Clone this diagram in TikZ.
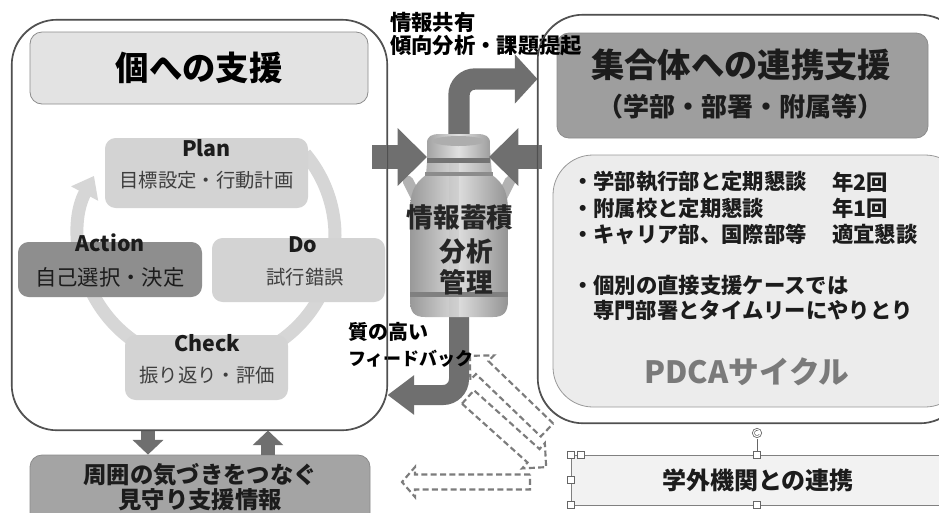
\documentclass[tikz,border=0pt]{standalone}
\usepackage{fontspec}
\setmainfont{Noto Sans CJK JP}
\usetikzlibrary{arrows.meta,positioning}

\definecolor{panelline}{HTML}{505050}
\definecolor{boxline}{HTML}{8C8C8C}
\definecolor{paletitle}{HTML}{E3E3E3}
\definecolor{stepgray}{HTML}{D3D3D3}
\definecolor{actgray}{HTML}{8E8E8E}
\definecolor{ringgray}{HTML}{D6D6D6}
\definecolor{arrowgray}{HTML}{6F6F6F}
\definecolor{grouptop}{HTML}{9E9E9E}
\definecolor{watchgray}{HTML}{A4A4A4}
\definecolor{meetgray}{HTML}{ECECEC}
\definecolor{dashgray}{HTML}{7C7C7C}
\definecolor{inkgray}{HTML}{1C1C1C}
\definecolor{cyclegray}{HTML}{7A7A7A}

\begin{document}
\begin{tikzpicture}[
    x=0.75pt, y=0.75pt,
    panel/.style={draw=panelline, line width=0.8pt, rounded corners=34pt, inner sep=0pt},
    headbox/.style={draw=boxline, line width=0.6pt, rounded corners=9pt, inner sep=0pt},
    stepbox/.style={fill=stepgray, rounded corners=8pt, inner sep=0pt},
    steptitle/.style={font=\bfseries\fontsize{16}{18}\selectfont, text=inkgray, inner sep=0pt},
    stepnote/.style={font=\fontsize{14.5}{16}\selectfont, text=inkgray!85, inner sep=0pt},
    listtext/.style={font=\bfseries\fontsize{16}{18}\selectfont, text=inkgray, inner sep=0pt, anchor=west},
    flowtag/.style={font=\bfseries\fontsize{16}{18}\selectfont, text=black, inner sep=0pt, anchor=west},
    cantext/.style={font=\bfseries\fontsize{20}{22}\selectfont, text=black!85, inner sep=0pt},
    ring/.style={draw=ringgray, line width=9.75pt, -{Triangle[width=22pt,length=15pt]}},
    blockarrow/.style={draw=arrowgray, line width=18pt, -{Triangle[width=42pt,length=22pt]}},
    bentarrow/.style={draw=arrowgray, line width=16pt, rounded corners=12pt, -{Triangle[width=36pt,length=17pt]}},
    smallarrow/.style={draw=arrowgray, line width=10pt, -{Triangle[width=22.5pt,length=11pt]}},
    dashbox/.style={draw=dashgray, line width=1.6pt, dash pattern=on 4.5pt off 2.5pt},
    grip/.style={draw=black!60, fill=white, line width=0.5pt, minimum size=5.5pt, inner sep=0pt}
]
\fill[white] (0,0) rectangle (939,-512);
\useasboundingbox (0,0) rectangle (939,-512);

% the two big panels
\node[panel, minimum width=281.25pt, minimum height=307.5pt] (indiv) at (199.5,-225) {};
\node[panel, minimum width=320.25pt, minimum height=306pt] (group) at (751.5,-219) {};

% left panel: title and PDCA cycle
\node[headbox, fill=paletitle, minimum width=253.5pt, minimum height=54pt,
      font=\bfseries\fontsize{25}{28}\selectfont] (kotitle) at (199,-68) {個への支援};

\draw[ring] (207,-236) ++(40:128) arc[start angle=40, end angle=-208, radius=128];

\node[stepbox, minimum width=152.25pt, minimum height=52.5pt] (plan) at (206.5,-173) {};
\node[steptitle] (plant) at (206.5,-148) {Plan};
\node[stepnote] (plann) at (206.5,-180) {目標設定・行動計画};

\node[stepbox, fill=actgray, minimum width=138pt, minimum height=41.25pt] (action) at (110,-269.5) {};
\node[steptitle] (actiont) at (110,-243) {Action};
\node[stepnote, font=\fontsize{16}{18}\selectfont, text=inkgray] (actionn) at (110,-277) {自己選択・決定};

\node[stepbox, minimum width=129.75pt, minimum height=48pt] (do) at (298.5,-270) {};
\node[steptitle] (dot) at (303,-245) {Do};
\node[stepnote] (don) at (305,-277) {試行錯誤};

\node[stepbox, minimum width=122.25pt, minimum height=48.75pt] (check) at (206.5,-367.5) {};
\node[steptitle] (checkt) at (207,-343) {Check};
\node[stepnote] (checkn) at (207,-375) {振り返り・評価};

% bottom left box
\node[headbox, fill=watchgray, minimum width=255pt, minimum height=52.5pt] (mimamori) at (200,-490) {};
\node[align=center, inner sep=0pt, font=\bfseries\fontsize{17.5}{18.75}\selectfont, text=inkgray]
    (mimamorit) at (200,-487.5) {周囲の気づきをつなぐ\\見守り支援情報};
\draw[smallarrow] (indiv.south -| 148,0) -- (mimamori.north -| 148,0);
\draw[smallarrow] (mimamori.north -| 268,0) -- (indiv.south -| 268,0);

% right panel
\node[headbox, fill=grouptop, minimum width=278.25pt, minimum height=78.75pt] (grouptitle) at (742.5,-85.5) {};
\node[inner sep=0pt, font=\bfseries\fontsize{25}{28}\selectfont, text=inkgray] (groupt1) at (741,-65) {集合体への連携支援};
\node[inner sep=0pt, font=\bfseries\fontsize{19.5}{22}\selectfont, text=inkgray] (groupt2) at (740,-107) {（学部・部署・附属等）};

\node[draw=black!40, line width=0.6pt, fill=meetgray, rounded corners=30pt,
      minimum width=309pt, minimum height=189pt] (meeting) at (759,-281) {};
\foreach \what/\when [count=\i] in {・学部執行部と定期懇談/年2回, ・附属校と定期懇談/年1回, ・キャリア部、国際部等/適宜懇談}{
    \node[listtext] (talk\i) at (572,{-182-26*(\i-1)}) {\what};
    \node[listtext] (freq\i) at (832,{-182-26*(\i-1)}) {\when};
}
\node[listtext] (direct1) at (572,-285) {・個別の直接支援ケースでは};
\node[listtext] (direct2) at (593,-310) {専門部署とタイムリーにやりとり};
\node[inner sep=0pt, font=\bfseries\fontsize{23}{26}\selectfont, text=cyclegray] (cycle) at (747,-372) {PDCAサイクル};

% outside partners, still selected
\node[draw=black!50, line width=0.6pt, fill=black!5, minimum width=280.5pt, minimum height=37.5pt,
      font=\bfseries\fontsize{18}{20}\selectfont, text=inkgray] (gaibu) at (758,-480) {学外機関との連携};
\draw[black!60, line width=0.5pt] (757,-439) -- (gaibu.north -| 757,0);
\node[draw=black!60, fill=white, circle, line width=0.5pt, minimum size=7pt, inner sep=0pt] (turn) at (757,-433) {};
\draw[black!60, line width=0.4pt] (turn.center) ++(60:2pt) arc[start angle=60, end angle=330, radius=2.6];
\foreach \p [count=\i] in {(571,-455),(581,-455),(757,-455),(571,-480),(571,-505),(757,-505)}
    \node[grip] (grip\i) at \p {};

% milk can in the middle
\node[minimum width=73.5pt, minimum height=136.5pt, inner sep=0pt] (can) at (459,-226) {};
\draw[bentarrow] ([yshift=-6pt]can.north) |- (group.west |- 0,-79);
\draw[bentarrow, line width=15pt, -{Triangle[width=28.5pt,length=20pt]}]
    ([yshift=4pt]can.south) |- (indiv.east |- 0,-395);

\draw[line width=8pt, line cap=round, black!30] (408,-181) -- (416,-197);
\draw[line width=8pt, line cap=round, black!30] (510,-181) -- (502,-197);
\shade[left color=black!40, right color=black!42, middle color=black!14]
    (428,-150) -- (426,-175) .. controls (413,-184) and (410,-195) .. (410,-212) -- (410,-300)
    .. controls (410,-312) and (414,-317) .. (425,-317) -- (493,-317)
    .. controls (504,-317) and (508,-312) .. (508,-300) -- (508,-212)
    .. controls (508,-195) and (505,-184) .. (492,-175) -- (490,-150) -- cycle;
\fill[black!25, opacity=0.35] (449,-150) rectangle (459,-317);
\shade[left color=black!36, right color=black!38, middle color=black!12]
    (427,-162) -- (427,-143) .. controls (427,-136) and (432,-134) .. (440,-134) -- (477,-134)
    .. controls (485,-134) and (490,-136) .. (490,-143) -- (490,-162) -- cycle;
\fill[black!32] (458.5,-141) ellipse[x radius=26, y radius=5];
\fill[black!55] (427,-158) rectangle (490,-163);
\fill[black!45] (425,-172) rectangle (493,-175.5);
\fill[black!50] (410,-292) rectangle (508,-297);
\node[cantext] (store) at (460,-217) {情報蓄積};
\node[cantext] (analyse) at (466,-251) {分析};
\node[cantext] (manage) at (466,-282) {管理};

% gathering arrows into the can
\coordinate (fromL) at (372,-157);
\coordinate (neckL) at (427,-157);
\coordinate (fromR) at (542,-157);
\coordinate (neckR) at (489,-157);
\draw[blockarrow] (fromL) -- (neckL);
\draw[blockarrow] (fromR) -- (neckR);

% dashed links with the outside box
\draw[dashbox, shift={(468,-397)}, rotate=-41.9]
    (0,-9) -- (88,-9) -- (88,-17) -- (105,0) -- (88,17) -- (88,9) -- (0,9) -- cycle;
\draw[dashbox, shift={(547,-430)}, rotate=136.1]
    (0,-9) -- (90,-9) -- (90,-17) -- (107,0) -- (90,17) -- (90,9) -- (0,9) -- cycle;
\draw[dashbox, shift={(530,-482)}, rotate=180]
    (0,-7.5) -- (115,-7.5) -- (115,-15) -- (128,0) -- (115,15) -- (115,7.5) -- (0,7.5) -- cycle;

% labels on the flows
\node[flowtag] (share) at (390,-22) {情報共有};
\node[flowtag] (trend) at (390,-46) {傾向分析・課題提起};
\node[flowtag, font=\bfseries\fontsize{15}{17}\selectfont] (quality) at (348,-332) {質の高い};
\node[flowtag, font=\bfseries\fontsize{13.5}{15}\selectfont] (feedback) at (348,-359) {フィードバック};

% panel outlines over the arrows
\draw[panel] (indiv.south west) rectangle (indiv.north east);
\draw[panel] (group.south west) rectangle (group.north east);
\end{tikzpicture}
\end{document}
